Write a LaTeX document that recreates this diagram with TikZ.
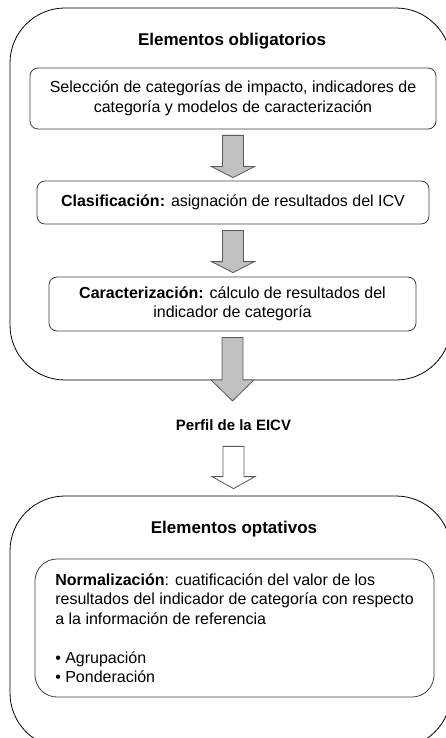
\documentclass[tikz,border=0pt]{standalone}
\usepackage{fontspec}
\setmainfont{Liberation Sans}
\usetikzlibrary{calc}

\definecolor{boxline}{RGB}{64,64,64}
\definecolor{arrowfill}{RGB}{192,192,192}
\definecolor{arrowline}{RGB}{90,90,90}

\tikzset{
  bigbox/.style={draw=black, line width=0.8pt, rounded corners=55pt, inner sep=0pt},
  stepbox/.style={draw=boxline, line width=0.8pt, rounded corners=8pt, align=center, inner sep=0pt,
    font=\fontsize{16}{19.5}\selectfont},
  titletext/.style={font=\bfseries\fontsize{17}{20}\selectfont, inner sep=0pt},
  fatarrow/.style n args={3}{draw=arrowline, line width=0.8pt, line join=miter,
    to path={let \p1=(\tikztostart.south), \p2=(\tikztotarget.north) in
      (\x1-10.5pt,\y1-#1) -- (\x1+10.5pt,\y1-#1) -- (\x1+10.5pt,\y2+#2+#3) -- (\x1+21.5pt,\y2+#2+#3)
      -- (\x1,\y2+#2) -- (\x1-21.5pt,\y2+#2+#3) -- (\x1-10.5pt,\y2+#2+#3) -- cycle}},
}

\begin{document}
\begin{tikzpicture}[x=1pt,y=-1pt]
\clip (0,0) rectangle (446,738);

%Shape: Rounded Rect [obligatory part]
\node [bigbox, minimum width=441, minimum height=372] (oblig) at (230.5,194) {};
% Text Node
\node [titletext] (obligtitle) at (232,41) {Elementos obligatorios};

%Shape: Rounded Rect
\node [stepbox, minimum width=406, minimum height=61] (sel) at (233,98.5)
  {Selección de categorías de impacto, indicadores de\\categoría y modelos de caracterización};
%Shape: Rounded Rect
\node [stepbox, minimum width=392, minimum height=43] (cla) at (233,202.5)
  {\textbf{Clasificación:} asignación de resultados del ICV};
%Shape: Rounded Rect
\node [stepbox, minimum width=367, minimum height=54] (car) at (232.5,304)
  {\textbf{Caracterización:} cálculo de resultados del\\indicador de categoría};

% Text Node
\node [anchor=base, inner sep=0pt, font=\bfseries\fontsize{15}{18}\selectfont] (perfil) at (233.5,430.5) {Perfil de la EICV};

%Shape: Rounded Rect [optional part]
\node [bigbox, minimum width=441, minimum height=252] (opt) at (230.5,622) {};
% Text Node
\node [titletext] (opttitle) at (234,529) {Elementos optativos};

%Shape: Rounded Rect
\node [stepbox, rounded corners=22pt, align=left, minimum width=399, minimum height=138] (norm) at (234.5,628)
  {\textbf{Normalización}: cuatificación del valor de los\\
   resultados del indicador de categoría con respecto\\
   a la información de referencia\\[19.5pt]
   • Agrupación\\
   • Ponderación};

%Down Arrows
\draw [fatarrow={6pt}{3pt}{11pt}, fill=arrowfill] (sel) to (cla);
\draw [fatarrow={6pt}{4pt}{11pt}, fill=arrowfill] (cla) to (car);
\draw [fatarrow={6pt}{18.5pt}{21pt}, fill=arrowfill] (car) to (perfil);
\draw [fatarrow={15.5pt}{7pt}{12pt}, fill=white] (perfil) to (opt);

\end{tikzpicture}
\end{document}
